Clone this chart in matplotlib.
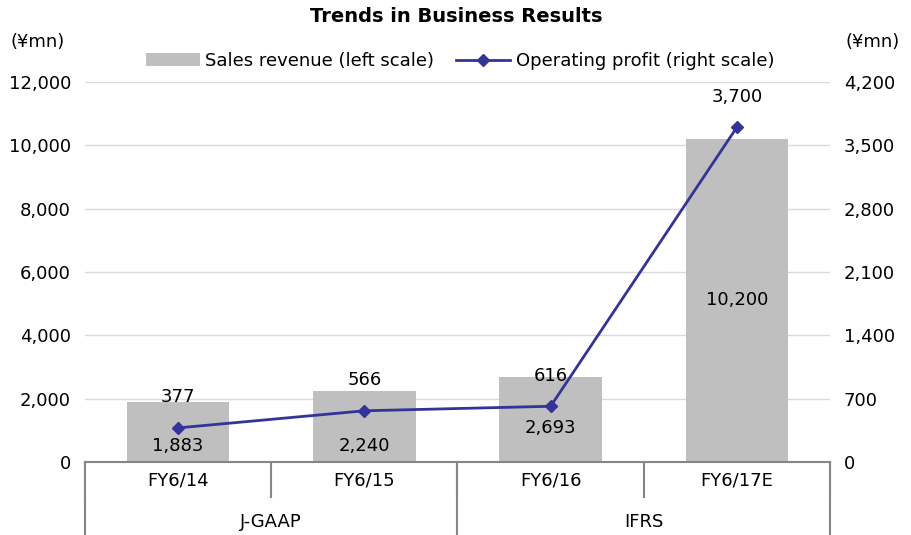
import matplotlib
matplotlib.use("Agg")
import matplotlib.pyplot as plt

plt.rcParams['font.family'] = ['Liberation Sans Narrow', 'DejaVu Sans']

# data
categories = ['FY6/14', 'FY6/15', 'FY6/16', 'FY6/17E']
groups = ['J-GAAP', 'IFRS']
sales = [1883, 2240, 2693, 10200]
profit = [377, 566, 616, 3700]
sales_label_y = [505, 505, 1074, 5116]

left_ticks = [0, 2000, 4000, 6000, 8000, 10000, 12000]
right_ticks = [0, 700, 1400, 2100, 2800, 3500, 4200]

fig = plt.figure(figsize=(9.12, 5.35), dpi=100)
ax = fig.add_axes([85 / 912, 1 - 462 / 535, 745 / 912, 380 / 535])
ax2 = ax.twinx()

x = list(range(len(categories)))
ax.bar(x, sales, width=0.55, color='#bfbfbf', zorder=2, label='Sales revenue (left scale)')
ax2.plot(x, profit, color='#333399', marker='D', markersize=6, linewidth=2,
         zorder=3, label='Operating profit (right scale)')

ax.set_xlim(-0.5, 3.5)
ax.set_ylim(0, 12000)
ax2.set_ylim(0, 4200)
ax.set_yticks(left_ticks)
ax.set_yticklabels([f'{v:,}' for v in left_ticks])
ax2.set_yticks(right_ticks)
ax2.set_yticklabels([f'{v:,}' for v in right_ticks])
ax.yaxis.grid(True, color='#d9d9d9', linewidth=1, zorder=0)
ax.set_axisbelow(True)
for a in (ax, ax2):
    for s in a.spines.values():
        s.set_visible(False)
    a.tick_params(axis='both', length=0, labelsize=13, pad=10)
ax.set_xticks([])

# data labels
for i in x:
    ax.text(i, sales_label_y[i], f'{sales[i]:,}', ha='center', va='center', fontsize=13, zorder=4)
    ax2.annotate(f'{profit[i]:,}', (i, profit[i]), xytext=(0, 22), textcoords='offset points',
                 ha='center', va='center', fontsize=13, zorder=4)

# category axis (two levels)
tr = ax.get_xaxis_transform()
ax.plot([-0.5, 3.5], [0, 0], transform=tr, color='#868686', linewidth=1.5, clip_on=False)
for b in [-0.5, 0.5, 1.5, 2.5, 3.5]:
    ax.plot([b, b], [0, -0.092], transform=tr, color='#868686', linewidth=1.5, clip_on=False)
for b in [-0.5, 1.5, 3.5]:
    ax.plot([b, b], [0, -0.2], transform=tr, color='#868686', linewidth=1.5, clip_on=False)
for i, c in enumerate(categories):
    ax.text(i, -0.048, c, transform=tr, ha='center', va='center', fontsize=13)
for j, g in enumerate(groups):
    ax.text(0.5 + 2 * j, -0.158, g, transform=tr, ha='center', va='center', fontsize=13)

fig.text(0.5, 1 - 17 / 535, 'Trends in Business Results', ha='center', va='center',
         fontsize=14, fontweight='bold')
fig.text(38 / 912, 1 - 42 / 535, '(¥mn)', ha='center', va='center', fontsize=13)
fig.text(873 / 912, 1 - 42 / 535, '(¥mn)', ha='center', va='center', fontsize=13)

h1, l1 = ax.get_legend_handles_labels()
h2, l2 = ax2.get_legend_handles_labels()
fig.legend(h1 + h2, l1 + l2, loc='center', bbox_to_anchor=(460 / 912, 1 - 61 / 535), ncol=2,
           frameon=False, fontsize=13, handlelength=3, columnspacing=1.2, handletextpad=0.3)

fig.savefig('out.png', dpi=100)
